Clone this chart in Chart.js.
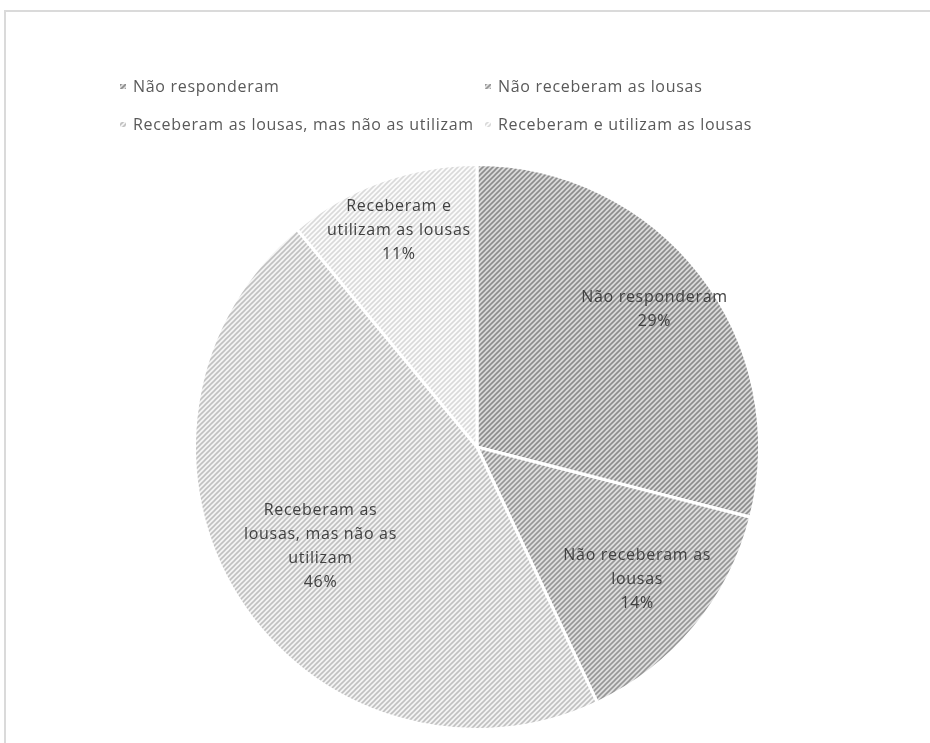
<!DOCTYPE html>
<html><head><meta charset="utf-8">
<script src="https://cdn.jsdelivr.net/npm/chart.js@4/dist/chart.umd.min.js"></script>
<style>
html,body{margin:0;padding:0;background:#fff;overflow:hidden;}
#wrap{position:relative;width:930px;height:743px;overflow:hidden;}
#frame{position:absolute;left:4px;top:10px;width:926px;height:733px;border-top:2px solid #dadada;border-left:2px solid #dadada;box-sizing:border-box;}
canvas{position:absolute;left:0;top:0;}
</style></head><body>
<div id="wrap"><div id="frame"></div><canvas id="c" width="930" height="743"></canvas></div>
<script>
// ---- data ----
const categories = ['Não responderam', 'Não receberam as lousas', 'Receberam as lousas, mas não as utilizam', 'Receberam e utilizam as lousas'];
const values = [29, 14, 46, 11];
const labelLines = [
  ['Não responderam'],
  ['Não receberam as', 'lousas'],
  ['Receberam as', 'lousas, mas não as', 'utilizam'],
  ['Receberam e', 'utilizam as lousas']
];

const canvas = document.getElementById('c');
const ctx = canvas.getContext('2d');

function hatch(bg, fg, lw) {
  const s = 5;
  const t = document.createElement('canvas');
  t.width = s; t.height = s;
  const x = t.getContext('2d');
  x.fillStyle = bg; x.fillRect(0, 0, s, s);
  x.strokeStyle = fg; x.lineWidth = lw; x.lineCap = 'square';
  x.beginPath();
  x.moveTo(-1, 1); x.lineTo(1, -1);
  x.moveTo(0, s); x.lineTo(s, 0);
  x.moveTo(s - 1, s + 1); x.lineTo(s + 1, s - 1);
  x.stroke();
  return ctx.createPattern(t, 'repeat');
}
const patterns = [
  hatch('#dadada', '#8c8c8c', 1.6),
  hatch('#dedede', '#959595', 1.6),
  hatch('#f3f3f3', '#c0c0c0', 1.6),
  hatch('#fbfbfb', '#d9d9d9', 1.6)
];

const FONT = '16px "Open Sans"';
const SPACING = '0.7px';

const sliceLabels = {
  id: 'sliceLabels',
  afterDatasetsDraw(chart, args, opts) {
    const meta = chart.getDatasetMeta(0);
    const total = values.reduce((a, b) => a + b, 0);
    const c = chart.ctx;
    c.save();
    c.font = FONT;
    c.letterSpacing = SPACING;
    c.fillStyle = '#404040';
    c.textAlign = 'center';
    c.textBaseline = 'middle';
    meta.data.forEach((arc, i) => {
      const p = arc.getProps(['x', 'y', 'startAngle', 'endAngle', 'outerRadius'], true);
      const mid = (p.startAngle + p.endAngle) / 2;
      const r = p.outerRadius * opts.radial[i];
      const cx = p.x + Math.cos(mid) * r;
      const cy = p.y + Math.sin(mid) * r;
      const lines = labelLines[i].concat([Math.round(values[i] / total * 100) + '%']);
      const lh = 24;
      const y0 = cy - (lines.length - 1) * lh / 2;
      lines.forEach((ln, k) => c.fillText(ln, cx, y0 + k * lh));
    });
    c.restore();
  }
};

const gridLegend = {
  id: 'gridLegend',
  afterDraw(chart, args, opts) {
    const c = chart.ctx;
    c.save();
    c.font = FONT;
    c.letterSpacing = SPACING;
    c.textBaseline = 'middle';
    c.textAlign = 'left';
    categories.forEach((name, i) => {
      const col = i % 2, row = Math.floor(i / 2);
      const x = opts.cols[col], y = opts.rows[row];
      c.fillStyle = patterns[i];
      c.fillRect(x, y - 3, 6, 5);
      c.fillStyle = '#595959';
      c.fillText(name, x + 13, y);
    });
    c.restore();
  }
};

new Chart(ctx, {
  type: 'pie',
  data: {
    labels: categories,
    datasets: [{
      data: values,
      backgroundColor: patterns,
      borderColor: '#ffffff',
      borderWidth: 3,
      hoverOffset: 0
    }]
  },
  options: {
    responsive: false,
    animation: false,
    events: [],
    layout: { padding: { top: 163, bottom: 12, left: 24, right: 0 } },
    plugins: {
      legend: { display: false },
      tooltip: { enabled: false },
      sliceLabels: { radial: [0.795, 0.736, 0.656, 0.816] },
      gridLegend: { cols: [120, 485], rows: [87, 125] }
    }
  },
  plugins: [sliceLabels, gridLegend]
});
</script>
</body></html>
